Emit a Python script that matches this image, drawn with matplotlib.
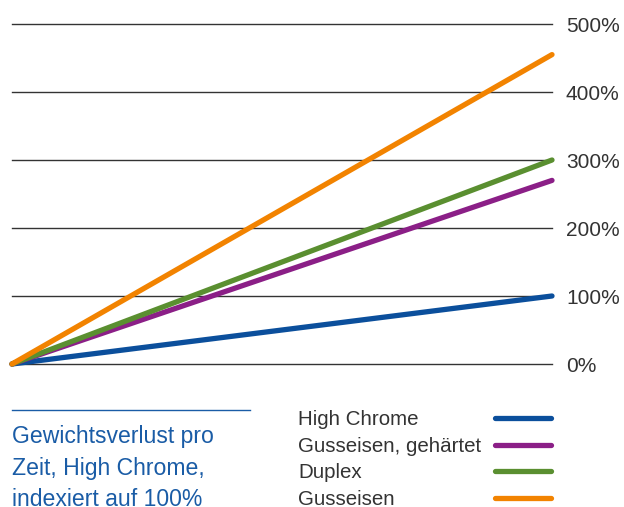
import matplotlib
matplotlib.use("Agg")
import matplotlib.pyplot as plt
from matplotlib.lines import Line2D

# Data
series_names = ["High Chrome", "Gusseisen, gehärtet", "Duplex", "Gusseisen"]
start_values = [0, 0, 0, 0]
end_values = [100, 270, 300, 455]
colors = ["#0b4f9c", "#8b1f87", "#5a8f30", "#f28300"]
y_ticks = [0, 100, 200, 300, 400, 500]
y_tick_labels = ["0%", "100%", "200%", "300%", "400%", "500%"]
caption_lines = ["Gewichtsverlust pro", "Zeit, High Chrome,", "indexiert auf 100%"]

plt.rcParams["font.family"] = ["Liberation Sans", "DejaVu Sans"]

W, H = 624, 507
fig = plt.figure(figsize=(W / 100, H / 100), dpi=100)

def fx(px):
    return px / W

def fy(py):
    return 1 - py / H

ax = fig.add_axes([fx(12), fy(364), fx(552) - fx(12), (364 - 24) / H])
ax.set_xlim(0, 1)
ax.set_ylim(0, 500)
for s in ax.spines.values():
    s.set_visible(False)
ax.set_xticks([])
ax.yaxis.tick_right()
ax.set_yticks(y_ticks)
ax.set_yticklabels(y_tick_labels)
ax.tick_params(axis="y", length=0, pad=10, labelsize=15, labelcolor="#333333")
for t in y_ticks:
    ax.axhline(t, color="#333333", lw=1.0, zorder=1, clip_on=False)

for name, y0, y1, c in zip(series_names, start_values, end_values, colors):
    ax.plot([0, 1], [y0, y1], color=c, lw=3.8, solid_capstyle="round",
            clip_on=False, zorder=3)

# Caption with rule above
fig.add_artist(Line2D([fx(12), fx(250)], [fy(410), fy(410)],
                      transform=fig.transFigure, color="#1a5ca6", lw=1.0))
for i, line in enumerate(caption_lines):
    fig.text(fx(12), fy(443 + i * 31.5), line, color="#1a5ca6", fontsize=16.6,
             ha="left", va="baseline")

# Legend (labels left, swatches right)
for i, (name, c) in enumerate(zip(series_names, colors)):
    base = 425 + i * 26.7
    fig.text(fx(298), fy(base), name, color="#333333", fontsize=14.8,
             ha="left", va="baseline")
    fig.add_artist(Line2D([fx(495), fx(551)], [fy(base - 7), fy(base - 7)],
                          transform=fig.transFigure, color=c, lw=3.8,
                          solid_capstyle="round"))

fig.savefig("out.png", dpi=100)
